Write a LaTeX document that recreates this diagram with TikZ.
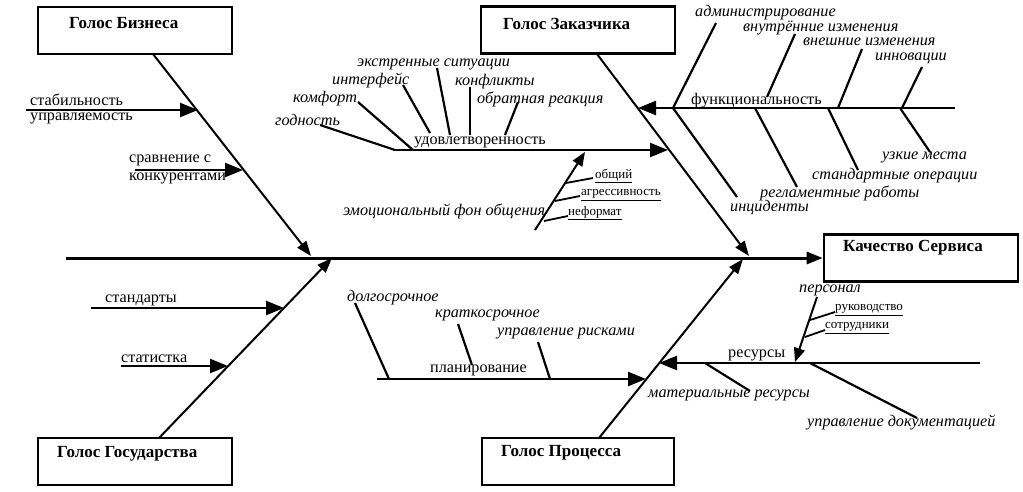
\documentclass[tikz,border=0pt]{standalone}
\usepackage{fontspec}
\setmainfont{Liberation Serif}
\usetikzlibrary{arrows.meta}
\begin{document}
\begin{tikzpicture}[x=1pt,y=-1pt,
  box/.style={draw,line width=2.6pt,inner sep=0pt,minimum width=#1,minimum height=47pt},
  title/.style={anchor=west,inner sep=0pt,font=\fontsize{17}{19}\selectfont\bfseries},
  up/.style={anchor=west,inner sep=0pt,font=\fontsize{16.2}{18}\selectfont},
  it/.style={anchor=west,inner sep=0pt,font=\fontsize{16.2}{18}\selectfont\itshape},
  sm/.style={anchor=west,inner sep=0pt,font=\fontsize{13}{14}\selectfont},
  spine/.style={line width=3pt,-{Triangle[length=16pt,width=12pt]}},
  bone/.style={line width=2pt,-{Triangle[length=15pt,width=11pt]}},
  branch/.style={line width=2.5pt,-{Triangle[length=18pt,width=14pt]}},
  sub/.style={line width=2.2pt},
  subarr/.style={line width=2pt,-{Triangle[length=14pt,width=11pt]}}
]
\useasboundingbox (0,0) rectangle (1023,491);
% boxes
\node[box=194pt] (biz) at (135,30.5) {};
\node[box=194pt] (zak) at (578,30) {};
\node[box=194pt] (kach) at (921,258) {};
\node[box=194pt] (gos) at (135,461.5) {};
\node[box=192pt] (proc) at (578,461.5) {};
\node[title] (tbiz) at (69,23) {Голос Бизнеса};
\node[title] (tzak) at (503,24) {Голос Заказчика};
\node[title] (tkach) at (843,248) {Качество Сервиса};
\node[title] (tgos) at (57,454) {Голос Государства};
\node[title] (tproc) at (501,453) {Голос Процесса};
% spine
\coordinate (sp0) at (66,258);
\draw[spine] (sp0) -- (kach.west);
% bones
\coordinate (b1) at (153,54); \coordinate (b1e) at (311,256);
\coordinate (b2) at (159,438); \coordinate (b2e) at (332,258);
\coordinate (b3) at (597,54); \coordinate (b3e) at (749,256);
\coordinate (b4) at (599,438); \coordinate (b4e) at (743,259);
\draw[bone] (b1) -- (b1e);
\draw[bone] (b2) -- (b2e);
\draw[bone] (b3) -- (b3e);
\draw[bone] (b4) -- (b4e);
% business
\coordinate (s1) at (26,110); \coordinate (s1e) at (198,110);
\coordinate (s2) at (135,170); \coordinate (s2e) at (243,170);
\draw[branch] (s1) -- (s1e);
\draw[branch] (s2) -- (s2e);
\node[up] (t_stab) at (30,100) {стабильность};
\node[up] (t_upr) at (30,118) {управляемость};
\node[up] (t_srav) at (129,160) {сравнение с};
\node[up] (t_konk) at (129,178) {конкурентами};
% state
\coordinate (g1) at (91,308); \coordinate (g1e) at (284,308);
\coordinate (g2) at (121,366); \coordinate (g2e) at (228,366);
\draw[branch] (g1) -- (g1e);
\draw[branch] (g2) -- (g2e);
\node[up] (t_stand) at (105,300) {стандарты};
\node[up] (t_stat) at (121,359) {статистка};
% satisfaction
\coordinate (u0) at (393,150); \coordinate (u0e) at (668,150);
\draw[branch] (u0) -- (u0e);
\node[up] (t_udov) at (414,142) {удовлетворенность};
\coordinate (ua1) at (320,125); \coordinate (ub1) at (395,150);
\coordinate (ua2) at (358,102); \coordinate (ub2) at (413,150);
\coordinate (ua3) at (403,85); \coordinate (ub3) at (430,133);
\coordinate (ua4) at (437,68); \coordinate (ub4) at (450,135);
\coordinate (ua5) at (470,87); \coordinate (ub5) at (470,135);
\coordinate (ua6) at (518,102); \coordinate (ub6) at (505,135);
\foreach \i in {1,...,6} \draw[sub] (ua\i) -- (ub\i);
\node[it] (t_godn) at (275,120) {годность};
\node[it] (t_komf) at (293,99) {комфорт};
\node[it] (t_intf) at (332,80) {интерфейс};
\node[it] (t_ekst) at (357,64) {экстренные ситуации};
\node[it] (t_konf) at (455,82) {конфликты};
\node[it] (t_obr) at (477,99) {обратная реакция};
% emotional
\coordinate (e0) at (535,230); \coordinate (e0e) at (585,152);
\draw[subarr] (e0) -- (e0e);
\node[it] (t_emo) at (343,211) {эмоциональный фон общения};
\coordinate (ea1) at (566,183); \coordinate (eb1) at (593,178);
\coordinate (ea2) at (555,201); \coordinate (eb2) at (580,196);
\coordinate (ea3) at (544,221); \coordinate (eb3) at (568,216);
\foreach \i in {1,2,3} \draw[line width=1.8pt] (ea\i) -- (eb\i);
\node[sm] (t_obsh) at (595,176) {\underline{общий}};
\node[sm] (t_agr) at (581,195) {\underline{агрессивность}};
\node[sm] (t_nef) at (568,213) {\underline{неформат}};
% functionality
\coordinate (f0) at (955,108); \coordinate (f0e) at (638,108);
\draw[branch] (f0) -- (f0e);
\node[up] (t_func) at (691,101) {функциональность};
\coordinate (fa1) at (673,108); \coordinate (fb1) at (716,23);
\coordinate (fa2) at (767,97); \coordinate (fb2) at (795,34);
\coordinate (fa3) at (838,108); \coordinate (fb3) at (862,49);
\coordinate (fa4) at (902,108); \coordinate (fb4) at (922,67);
\coordinate (fc1) at (673,108); \coordinate (fd1) at (737,197);
\coordinate (fc2) at (755,108); \coordinate (fd2) at (797,187);
\coordinate (fc3) at (828,108); \coordinate (fd3) at (858,170);
\coordinate (fc4) at (900,108); \coordinate (fd4) at (930,152);
\foreach \i in {1,...,4} {\draw[sub] (fa\i) -- (fb\i); \draw[sub] (fc\i) -- (fd\i);}
\node[it] (t_adm) at (695,13) {администрирование};
\node[it] (t_vnut) at (743,28) {внутрённие изменения};
\node[it] (t_vnesh) at (803,42) {внешние изменения};
\node[it] (t_innov) at (875,58.5) {инновации};
\node[it] (t_inc) at (730,207) {инциденты};
\node[it] (t_regl) at (760,193) {регламентные работы};
\node[it] (t_stop) at (812,176) {стандартные операции};
\node[it] (t_uzk) at (882,157) {узкие места};
% planning
\coordinate (p0) at (377,379); \coordinate (p0e) at (646,379);
\draw[branch] (p0) -- (p0e);
\node[up] (t_plan) at (430,370) {планирование};
\coordinate (pa1) at (355,303); \coordinate (pb1) at (389,379);
\coordinate (pa2) at (458,324); \coordinate (pb2) at (472,365);
\coordinate (pa3) at (538,342); \coordinate (pb3) at (550,379);
\foreach \i in {1,2,3} \draw[sub] (pa\i) -- (pb\i);
\node[it] (t_dolg) at (347,298) {долгосрочное};
\node[it] (t_krat) at (435,315) {краткосрочное};
\node[it] (t_risk) at (497,333) {управление рисками};
% resources
\coordinate (r0) at (980,363); \coordinate (r0e) at (659,363);
\draw[branch] (r0) -- (r0e);
\node[up] (t_res) at (728,355) {ресурсы};
\coordinate (pe0) at (817,297); \coordinate (pe0e) at (795,362);
\draw[subarr] (pe0) -- (pe0e);
\node[it] (t_pers) at (799,290) {персонал};
\coordinate (ra1) at (810,320); \coordinate (rb1) at (835,312);
\coordinate (ra2) at (805,337); \coordinate (rb2) at (825,330);
\foreach \i in {1,2} \draw[line width=1.8pt] (ra\i) -- (rb\i);
\node[sm] (t_ruk) at (835,310) {\underline{руководство}};
\node[sm] (t_sotr) at (825,328) {\underline{сотрудники}};
\coordinate (rc1) at (705,363); \coordinate (rd1) at (750,391);
\coordinate (rc2) at (810,363); \coordinate (rd2) at (917,418);
\foreach \i in {1,2} \draw[sub] (rc\i) -- (rd\i);
\node[it] (t_mat) at (648,395) {материальные ресурсы};
\node[it] (t_doc) at (807,422) {управление документацией};
\end{tikzpicture}
\end{document}
